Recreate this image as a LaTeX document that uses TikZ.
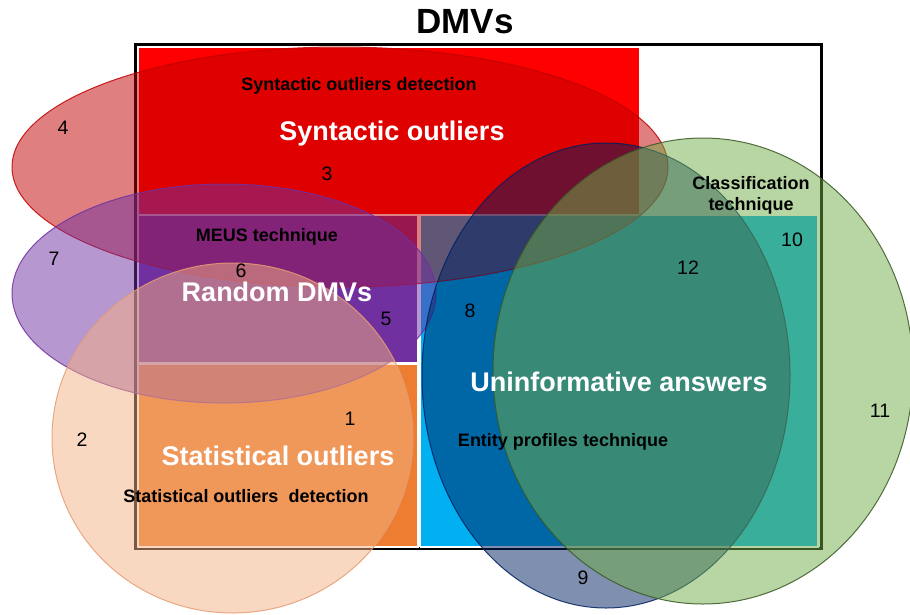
\documentclass[tikz,border=0pt]{standalone}
\usepackage{fontspec}
\setmainfont{Liberation Sans}
\definecolor{cRed}{HTML}{FF0000}
\definecolor{cPurple}{HTML}{7030A0}
\definecolor{cOrange}{HTML}{ED7D31}
\definecolor{cCyan}{HTML}{00B0F0}
\definecolor{eRed}{HTML}{C00000}
\definecolor{ePurple}{HTML}{7030A0}
\definecolor{eOrange}{HTML}{F4B183}
\definecolor{eOrangeLine}{HTML}{E69C74}
\definecolor{eNavy}{HTML}{002060}
\definecolor{eGreen}{HTML}{70AD47}
\definecolor{eGreenLine}{HTML}{385723}
\begin{document}
\begin{tikzpicture}[x=1pt,y=-1pt,
  region/.style={draw=white,line width=1.5pt},
  setshape/.style={fill opacity=0.5,draw opacity=0.85,line width=1pt},
  bigtxt/.style={text=white,font=\bfseries\fontsize{27}{30}\selectfont,inner sep=0pt,anchor=center},
  smalltxt/.style={text=black,font=\bfseries\fontsize{18}{21}\selectfont,inner sep=0pt,anchor=center,align=center},
  numtxt/.style={text=black,font=\fontsize{19.5}{22}\selectfont,inner sep=0pt,anchor=center}]
\useasboundingbox (0,0) rectangle (910,614);
% frame
\draw[line width=3pt,black] (135,44) rectangle (821,548);
% category regions
\filldraw[region,fill=cRed] (138,47.5) rectangle (640,215);
\filldraw[region,fill=cPurple] (138,215.5) rectangle (418,363);
\filldraw[region,fill=cOrange] (138,364) rectangle (418,547);
\filldraw[region,fill=cCyan] (420.5,215.5) rectangle (818,547);
% technique ellipses
\filldraw[setshape,fill=eRed,draw=eRed] (340,167) ellipse [x radius=328pt,y radius=120pt];
\filldraw[setshape,fill=ePurple,draw=ePurple] (224,293.5) ellipse [x radius=212pt,y radius=109.5pt];
\filldraw[setshape,fill=eOrange,draw=eOrangeLine] (232.5,438) ellipse [x radius=180.5pt,y radius=175pt];
\filldraw[setshape,fill=eNavy,draw=eNavy] (606,375.5) ellipse [x radius=184pt,y radius=232.5pt];
\filldraw[setshape,fill=eGreen,draw=eGreenLine] (703,371) ellipse [x radius=210pt,y radius=233pt];
% title
\node[font=\bfseries\fontsize{35}{38}\selectfont,inner sep=0pt] (title) at (465,22) {DMVs};
% labels
\node[smalltxt] (synDet) at (359,86) {Syntactic outliers detection};
\node[bigtxt] (syn) at (392,133.5) {Syntactic outliers};
\node[smalltxt] (meus) at (267,236.5) {MEUS technique};
\node[bigtxt] (rand) at (277,292) {Random DMVs};
\node[smalltxt] (classif) at (751,195.5) {Classification\\[0pt]technique};
\node[bigtxt] (uninf) at (619,382) {Uninformative answers};
\node[smalltxt] (entity) at (563,442) {Entity profiles technique};
\node[bigtxt] (stat) at (278,456) {Statistical outliers};
\node[smalltxt] (statDet) at (246,496) {Statistical outliers\ \ detection};
% region numbers
\node[numtxt] (n1) at (350,419) {1};
\node[numtxt] (n2) at (82,440) {2};
\node[numtxt] (n3) at (327,174) {3};
\node[numtxt] (n4) at (63,128) {4};
\node[numtxt] (n5) at (386,319) {5};
\node[numtxt] (n6) at (241,271) {6};
\node[numtxt] (n7) at (54,259) {7};
\node[numtxt] (n8) at (470,311) {8};
\node[numtxt] (n9) at (583,578) {9};
\node[numtxt] (n10) at (792,240) {10};
\node[numtxt] (n11) at (880,411) {11};
\node[numtxt] (n12) at (688,268) {12};
\end{tikzpicture}
\end{document}
